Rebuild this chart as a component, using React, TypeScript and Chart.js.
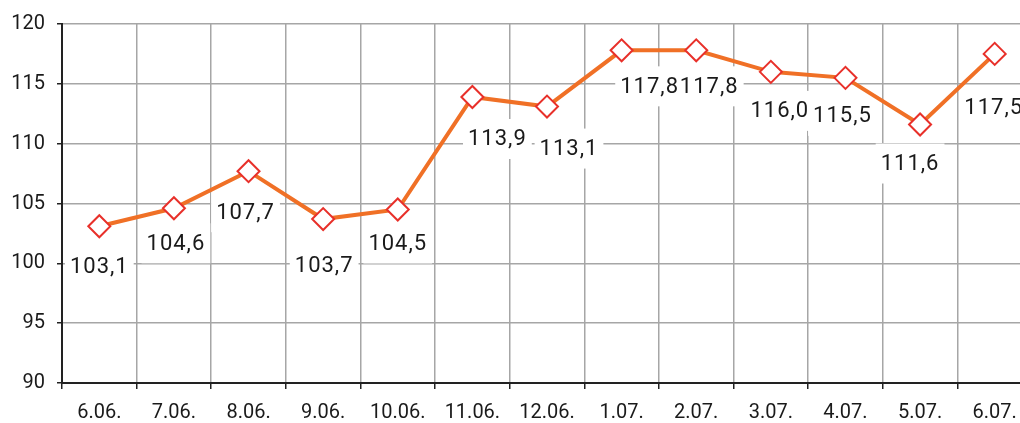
import React, { useEffect, useRef } from "react";
import { Chart, registerables } from "chart.js";

Chart.register(...registerables);

const categories = ["6.06.", "7.06.", "8.06.", "9.06.", "10.06.", "11.06.", "12.06.", "1.07.", "2.07.", "3.07.", "4.07.", "5.07.", "6.07."];
const values = [103.1, 104.6, 107.7, 103.7, 104.5, 113.9, 113.1, 117.8, 117.8, 116.0, 115.5, 111.6, 117.5];
const yTicks = [90, 95, 100, 105, 110, 115, 120];
// manual label placement (pixel offset from each point, like hand-moved spreadsheet labels)
const labelDx = [0, 2, -3, 1, 0, 25, 22, 28, 13, 9, -3, -10, -1];
const labelDy = [40, 35, 41, 46, 34, 42, 42, 36, 36, 39, 38, 39, 54];

const FONT = "Roboto, 'DejaVu Sans', sans-serif";

const labelPlugin = {
  id: "valueLabels",
  beforeDatasetsDraw(chart: any) {
    const ctx = chart.ctx;
    const meta = chart.getDatasetMeta(0);
    ctx.save();
    ctx.font = `22px ${FONT}`;
    try { (ctx as any).letterSpacing = "1px"; } catch (e) {}
    ctx.textAlign = "center";
    ctx.textBaseline = "middle";
    const items = meta.data.map((pt: any, i: number) => {
      const txt = values[i].toFixed(1).replace(".", ",");
      return { txt, w: ctx.measureText(txt).width + 10, cx: pt.x + labelDx[i], cy: pt.y + labelDy[i] };
    });
    ctx.fillStyle = "#ffffff";
    items.forEach((it: any) => ctx.fillRect(it.cx - it.w / 2, it.cy - 20, it.w, 40));
    ctx.fillStyle = "#1a1a1a";
    items.forEach((it: any) => ctx.fillText(it.txt, it.cx, it.cy + 1));
    ctx.restore();
  },
};

export default function App() {
  const ref = useRef<HTMLCanvasElement>(null);
  useEffect(() => {
    if (!ref.current) return;
    const chart = new Chart(ref.current, {
      type: "line",
      data: {
        labels: categories,
        datasets: [
          {
            data: values,
            borderColor: "#F07026",
            borderWidth: 4,
            pointStyle: "rectRot",
            pointRadius: 11,
            pointBackgroundColor: "#ffffff",
            pointBorderColor: "#E8302A",
            pointBorderWidth: 2,
            tension: 0,
          },
        ],
      },
      options: {
        animation: false,
        responsive: false,
        maintainAspectRatio: false,
        layout: { autoPadding: false, padding: { left: 0, right: 0, top: 19, bottom: 0 } },
        plugins: { legend: { display: false }, tooltip: { enabled: false } },
        scales: {
          x: {
            type: "category",
            offset: true,
            grid: { offset: true, color: "#a6a6a6", lineWidth: 1.5, tickLength: 6, tickColor: "#222", drawOnChartArea: true },
            border: { color: "#222", width: 2 },
            ticks: { color: "#1a1a1a", font: { family: FONT, size: 20 }, padding: 12, maxRotation: 0, autoSkip: false },
            afterFit: (s: any) => { s.height = 40; },
          },
          y: {
            min: 90,
            max: 120,
            afterBuildTicks: (s: any) => { s.ticks = yTicks.map((v) => ({ value: v })); },
            grid: { color: "#a6a6a6", lineWidth: 1.5, tickLength: 5, tickColor: "#222" },
            border: { color: "#222", width: 2 },
            ticks: { color: "#1a1a1a", font: { family: FONT, size: 20 }, padding: 12 },
            afterFit: (s: any) => { s.width = 62; },
          },
        },
      },
      plugins: [labelPlugin],
    });
    return () => chart.destroy();
  }, []);
  return (
    <div style={{ position: "fixed", left: 0, top: 0, width: 1020, height: 423, overflow: "hidden", background: "#fff" }}>
      <canvas ref={ref} width={1032} height={423} style={{ display: "block", width: 1032, height: 423 }} />
    </div>
  );
}
